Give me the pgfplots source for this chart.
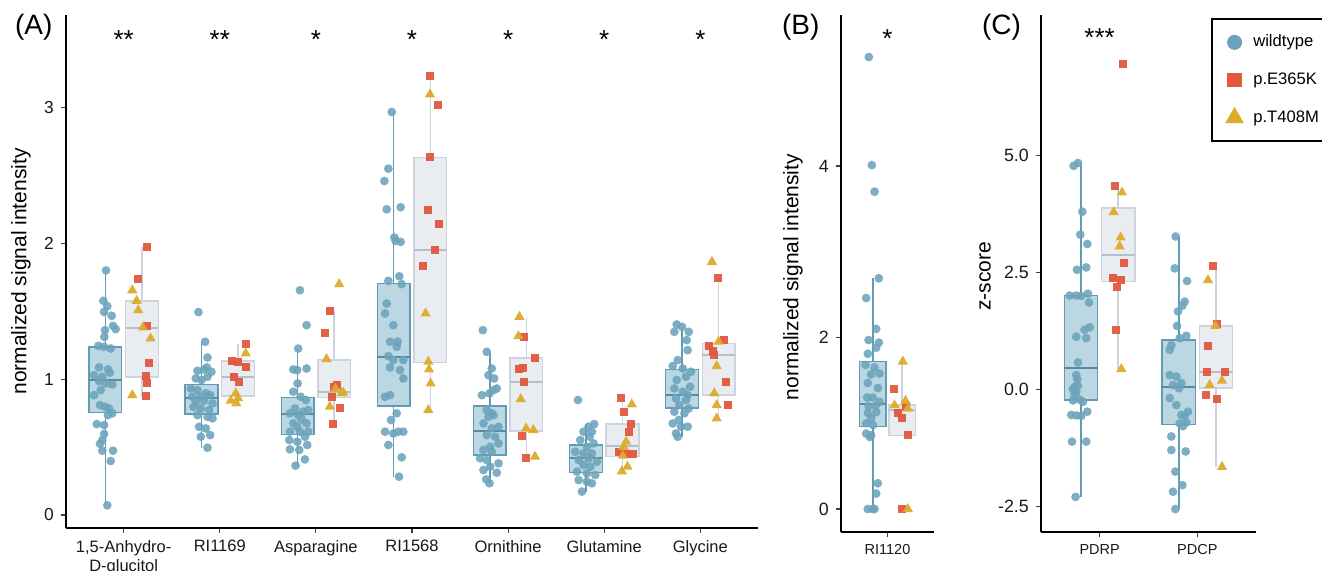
\documentclass[border=0pt]{standalone}
\usepackage{fontspec}
\setmainfont{Liberation Sans}
\usepackage{pgfplots}
\pgfplotsset{compat=1.18}
\usepgfplotslibrary{statistics}
\definecolor{wtpt}{RGB}{108,163,187}
\definecolor{wtbox}{RGB}{186,215,226}
\definecolor{wtline}{RGB}{96,156,181}
\definecolor{mutbox}{RGB}{233,237,241}
\definecolor{mutline}{RGB}{206,212,222}
\definecolor{ekred}{RGB}{226,88,62}
\definecolor{tmyel}{RGB}{221,171,42}
\pgfplotsset{
  panel/.style={scale only axis, anchor=south west, axis lines=left,
    axis line style={-, line width=0.6pt, black}, tick align=outside,
    major tick length=2.6pt, tick style={line width=0.6pt, black!75},
    /pgf/number format/assume math mode=true, enlargelimits=false, clip=false},
  wtb/.style={forget plot, draw=wtline, fill=wtbox, line width=0.75pt, mark=none,
    boxplot/draw direction=y,
    boxplot/box extend=0.34, boxplot/whisker extend=0,
    boxplot/every median/.style={draw=wtline!90!black, line width=1pt}},
  mtb/.style={forget plot, draw=mutline, fill=mutbox, line width=0.75pt, mark=none,
    boxplot/draw direction=y,
    boxplot/box extend=0.34, boxplot/whisker extend=0,
    boxplot/every median/.style={draw=mutline!90!black, line width=1pt}},
  wtp/.style={forget plot, only marks, mark=*, mark size=2.2pt, draw=wtpt, fill=wtpt, draw opacity=0, fill opacity=0.88},
  ekp/.style={forget plot, only marks, mark=square*, mark size=2pt, draw=ekred, fill=ekred, draw opacity=0, fill opacity=0.95},
  tmp/.style={forget plot, only marks, mark=triangle*, mark size=3pt, draw=tmyel, fill=tmyel, draw opacity=0, fill opacity=0.95},
}
\newcommand{\bx}[7]{\addplot[#1, boxplot prepared={draw position=#2, median=#3, upper quartile=#4, lower quartile=#5, upper whisker=#6, lower whisker=#7}] coordinates {};}
\begin{document}
\begin{tikzpicture}
\useasboundingbox (0,0) rectangle (661pt,285pt);
% ---------------- Panel A ----------------
\begin{axis}[panel, at={(33pt,21pt)}, width=346pt, height=256.5pt,
  xmin=-0.6, xmax=6.6, ymin=-0.096, ymax=3.68,
  xtick={0,1,2,3,4,5,6},
  xticklabels={{1,5-Anhydro-\\D-glucitol},RI1169,Asparagine,RI1568,Ornithine,Glutamine,Glycine},
  xticklabel style={align=center, font=\fontsize{8.25}{9.5}\selectfont, black!90},
  ytick={0,1,2,3},
  yticklabel style={font=\fontsize{8.7}{10}\selectfont, black!90},
  ylabel={normalized signal intensity},
  ylabel style={at={(axis description cs:-0.065,0.5)}, anchor=center, font=\fontsize{10.5}{12}\selectfont},
]
\bx{wtb}{-0.19}{0.993}{1.238}{0.755}{1.80}{0.071}
\bx{mtb}{0.19}{1.373}{1.574}{1.017}{1.973}{0.877}
\bx{wtb}{0.81}{0.858}{0.961}{0.743}{1.275}{0.495}
\bx{mtb}{1.19}{1.017}{1.135}{0.875}{1.262}{0.821}
\bx{wtb}{1.81}{0.743}{0.865}{0.593}{1.225}{0.363}
\bx{mtb}{2.19}{0.907}{1.140}{0.865}{1.500}{0.669}
\bx{wtb}{2.81}{1.164}{1.704}{0.801}{2.966}{0.282}
\bx{mtb}{3.19}{1.953}{2.630}{1.123}{3.233}{0.772}
\bx{wtb}{3.81}{0.618}{0.801}{0.441}{1.201}{0.233}
\bx{mtb}{4.19}{0.980}{1.157}{0.618}{1.458}{0.421}
\bx{wtb}{4.81}{0.417}{0.515}{0.311}{0.669}{0.172}
\bx{mtb}{5.19}{0.510}{0.669}{0.429}{0.863}{0.321}
\bx{wtb}{5.81}{0.882}{1.071}{0.789}{1.385}{0.576}
\bx{mtb}{6.19}{1.176}{1.262}{0.882}{1.745}{0.711}
\addplot[wtp] table {
x y
-0.211 1.576
-0.170 1.537
-0.204 1.495
-0.125 1.466
-0.111 1.392
-0.083 1.368
-0.194 1.360
-0.201 1.311
-0.263 1.245
-0.204 1.238
-0.135 1.225
-0.256 1.086
-0.163 1.071
-0.145 1.047
-0.308 1.029
-0.222 1.017
-0.256 0.985
-0.187 0.968
-0.118 0.961
-0.239 0.919
-0.308 0.882
-0.246 0.809
-0.194 0.796
-0.152 0.784
-0.118 0.748
-0.163 0.735
-0.280 0.669
-0.204 0.662
-0.204 0.596
-0.222 0.551
-0.246 0.524
-0.222 0.473
-0.111 0.473
-0.135 0.397
-0.170 0.071
-0.183 1.800
0.778 1.493
0.848 1.275
0.872 1.159
0.865 1.086
0.768 1.061
0.837 1.071
0.913 1.054
0.751 1.005
0.872 1.017
0.810 0.993
0.699 0.931
0.768 0.919
0.855 0.895
0.900 0.882
0.716 0.870
0.803 0.870
0.751 0.833
0.837 0.841
0.924 0.821
0.727 0.796
0.803 0.784
0.889 0.772
0.768 0.735
0.872 0.723
0.924 0.711
0.785 0.649
0.855 0.637
0.900 0.588
0.803 0.576
0.872 0.495
1.834 1.654
1.903 1.397
1.816 1.225
1.765 1.071
1.806 1.066
1.903 1.078
1.810 0.968
1.765 0.907
1.841 0.870
1.896 0.846
1.782 0.784
1.868 0.760
1.920 0.772
1.730 0.748
1.816 0.735
1.851 0.703
1.765 0.674
1.903 0.674
1.806 0.649
1.730 0.613
1.834 0.613
1.920 0.613
1.723 0.551
1.806 0.539
1.886 0.576
1.910 0.515
1.730 0.483
1.827 0.478
1.886 0.409
1.789 0.363
2.789 2.966
2.754 2.549
2.713 2.458
2.737 2.250
2.882 2.265
2.817 2.042
2.830 2.017
2.882 2.010
2.754 1.723
2.868 1.757
2.893 1.699
2.737 1.556
2.720 1.483
2.806 1.397
2.772 1.275
2.851 1.275
2.841 1.238
2.754 1.169
2.806 1.140
2.910 1.140
2.772 1.086
2.875 1.066
2.910 1.005
2.720 0.870
2.772 0.882
2.841 0.748
2.782 0.699
2.720 0.613
2.806 0.600
2.858 0.613
2.910 0.613
2.754 0.515
2.893 0.424
2.865 0.282
3.737 1.360
3.778 1.201
3.830 1.078
3.796 1.029
3.855 1.005
3.882 0.931
3.727 0.882
3.806 0.895
3.848 0.919
3.778 0.772
3.830 0.748
3.796 0.723
3.848 0.735
3.900 0.649
3.744 0.674
3.830 0.637
3.778 0.588
3.865 0.576
3.900 0.527
3.813 0.502
3.744 0.478
3.830 0.466
3.709 0.417
3.778 0.404
3.900 0.380
3.813 0.355
3.744 0.331
3.882 0.311
3.772 0.262
3.806 0.233
4.727 0.846
4.896 0.669
4.837 0.650
4.785 0.613
4.872 0.613
4.848 0.576
4.751 0.551
4.889 0.527
4.820 0.502
4.699 0.466
4.785 0.453
4.872 0.453
4.837 0.417
4.734 0.404
4.924 0.392
4.785 0.368
4.855 0.355
4.716 0.319
4.820 0.306
4.907 0.294
4.734 0.257
4.820 0.245
4.872 0.233
4.768 0.172
5.754 1.402
5.810 1.385
5.730 1.348
5.879 1.348
5.858 1.287
5.868 1.213
5.765 1.140
5.713 1.096
5.817 1.078
5.903 1.054
5.851 1.017
5.754 0.993
5.893 0.944
5.730 0.931
5.817 0.907
5.868 0.882
5.747 0.858
5.851 0.846
5.782 0.809
5.879 0.784
5.730 0.760
5.834 0.748
5.775 0.699
5.713 0.674
5.868 0.650
5.799 0.650
5.747 0.600
5.765 0.576
};
\addplot[ekp] table {
x y
0.239 1.973
0.149 1.738
0.246 1.392
0.263 1.120
0.228 1.022
0.246 0.968
0.228 0.877
1.270 1.262
1.131 1.135
1.190 1.123
1.277 1.086
1.149 1.017
1.201 0.980
2.145 1.500
2.093 1.341
2.215 0.956
2.190 0.940
2.163 0.865
2.249 0.784
2.180 0.669
3.187 3.233
3.274 3.020
3.187 2.635
3.170 2.248
3.280 2.140
3.239 1.953
3.118 1.833
4.166 1.311
4.284 1.157
4.118 1.078
4.159 1.083
4.166 0.980
4.142 0.581
4.187 0.421
5.173 0.863
5.201 0.760
5.277 0.669
5.253 0.613
5.159 0.466
5.298 0.449
5.235 0.450
6.180 1.745
6.249 1.287
6.093 1.245
6.128 1.208
6.145 1.176
6.267 0.976
6.284 0.809
};
\addplot[tmp] table {
x y
0.090 1.654
0.135 1.576
0.152 1.507
0.201 1.380
0.280 1.299
0.090 0.882
1.270 1.189
1.166 0.895
1.190 0.860
1.114 0.841
1.173 0.821
2.242 1.699
2.111 1.147
2.204 0.930
2.284 0.900
2.266 0.895
2.145 0.797
3.187 3.096
3.142 1.483
3.170 1.128
3.177 1.071
3.194 0.968
3.170 0.772
4.118 1.458
4.107 1.316
4.132 0.853
4.187 0.637
4.263 0.625
4.280 0.429
5.287 0.814
5.228 0.539
5.201 0.502
5.194 0.436
5.242 0.355
5.184 0.321
6.121 1.863
6.190 1.275
6.170 1.096
6.145 0.895
6.170 0.809
6.170 0.711
};
\foreach \i/\s in {0/{**},1/{**},2/{*},3/{*},4/{*},5/{*},6/{*}}{
  \edef\tmp{\noexpand\node[font=\noexpand\fontsize{13}{13}\noexpand\selectfont, yshift=-2.9pt] at (axis cs:\i,3.544) {\s};}
  \tmp
}
\end{axis}
% ---------------- Panel B ----------------
\begin{axis}[panel, at={(420.5pt,19pt)}, width=46.5pt, height=258.5pt,
  xmin=-0.6, xmax=0.6, ymin=-0.268, ymax=5.76,
  xtick={0}, xticklabels={RI1120},
  xticklabel style={font=\fontsize{7.25}{8.5}\selectfont, black!90},
  ytick={0,2,4},
  yticklabel style={font=\fontsize{8.9}{10}\selectfont, black!90},
  ylabel={normalized signal intensity},
  ylabel style={at={(axis description cs:-0.516,0.493)}, anchor=center, font=\fontsize{10.5}{12}\selectfont},
]
\bx{wtb}{-0.19}{1.22}{1.72}{0.96}{2.69}{0}
\bx{mtb}{0.19}{1.15}{1.21}{0.86}{1.72}{0.86}
\addplot[wtp] table {
x y
-0.241 5.27
-0.202 4.01
-0.168 3.70
-0.112 2.69
-0.275 2.46
-0.146 2.10
-0.245 1.97
-0.112 1.94
-0.146 1.88
-0.254 1.81
-0.284 1.68
-0.168 1.65
-0.103 1.58
-0.211 1.57
-0.254 1.47
-0.125 1.41
-0.262 1.30
-0.189 1.30
-0.103 1.25
-0.245 1.20
-0.155 1.20
-0.254 1.12
-0.146 1.13
-0.211 1.06
-0.275 1.00
-0.189 0.98
-0.275 0.88
-0.211 0.86
-0.228 0.84
-0.125 0.30
-0.146 0.18
-0.254 0.00
-0.168 0.00
-0.190 0.00
};
\addplot[ekp] table {
x y
0.090 1.40
0.133 1.12
0.241 1.20
0.189 1.06
0.262 0.86
0.189 0.00
};
\addplot[tmp] table {
x y
0.198 1.72
0.090 1.21
0.232 1.26
0.262 1.17
0.262 0.00
};
\node[font=\fontsize{13}{13}\selectfont, yshift=-2.9pt] at (axis cs:0,5.55) {*};
\end{axis}
% ---------------- Panel C ----------------
\begin{axis}[panel, at={(520.5pt,19pt)}, width=107.5pt, height=258.5pt,
  xmin=-0.6, xmax=1.6, ymin=-3.04, ymax=8.0,
  xtick={0,1}, xticklabels={PDRP,PDCP},
  xticklabel style={font=\fontsize{7.25}{8.5}\selectfont, black!90},
  ytick={-2.5,0,2.5,5}, yticklabels={-2.5,0.0,2.5,5.0},
  yticklabel style={font=\fontsize{8.9}{10}\selectfont, black!90},
  ylabel={z-score},
  ylabel style={at={(axis description cs:-0.26,0.495)}, anchor=center, font=\fontsize{10.5}{12}\selectfont},
  legend style={at={(axis description cs:0.791,0.994)}, anchor=north west,
    draw=black, line width=0.75pt, font=\fontsize{8.3}{9.5}\selectfont,
    row sep=7.5pt, inner xsep=2pt, inner ysep=6pt, cells={anchor=west}},
  legend cell align=left,
  legend image code/.code={\path (0pt,0pt) (16pt,0pt); \draw[#1] plot coordinates {(9pt,0pt)};},
]
\bx{wtb}{-0.19}{0.457}{2.01}{-0.22}{4.84}{-2.29}
\bx{mtb}{0.19}{2.88}{3.88}{2.31}{4.30}{0.44}
\bx{wtb}{0.81}{0.05}{1.06}{-0.74}{3.27}{-2.55}
\bx{mtb}{1.19}{0.37}{1.36}{0.03}{2.65}{-1.65}
\addplot[wtp] table {
x y
-0.266 4.78
-0.222 4.84
-0.177 3.80
-0.198 3.31
-0.126 3.11
-0.232 2.56
-0.137 2.61
-0.307 2.01
-0.239 2.01
-0.188 2.00
-0.119 2.05
-0.109 1.86
-0.154 1.28
-0.102 1.33
-0.239 1.13
-0.137 1.10
-0.222 0.58
-0.239 0.31
-0.229 0.22
-0.256 0.06
-0.222 0.08
-0.273 0.01
-0.239 -0.04
-0.256 -0.11
-0.205 -0.21
-0.273 -0.23
-0.171 -0.26
-0.290 -0.54
-0.239 -0.55
-0.188 -0.56
-0.126 -0.47
-0.283 -1.11
-0.137 -1.11
-0.246 -2.29
0.778 3.27
0.768 2.59
0.894 2.32
0.870 1.88
0.846 1.79
0.802 1.67
0.792 1.36
0.887 1.15
0.819 1.10
0.734 0.95
0.717 0.85
0.717 0.31
0.785 0.28
0.836 0.14
0.751 0.10
0.812 0.03
0.717 -0.18
0.785 -0.33
0.904 -0.47
0.836 -0.54
0.870 -0.56
0.819 -0.72
0.853 -0.78
0.887 -0.70
0.734 -1.00
0.734 -1.29
0.880 -1.32
0.775 -1.75
0.846 -2.04
0.751 -2.18
0.775 -2.55
};
\addplot[ekp] table {
x y
0.239 6.96
0.160 4.35
0.246 2.70
0.137 2.38
0.215 2.34
0.177 2.19
0.171 1.28
1.160 2.65
1.201 1.40
1.109 0.94
1.099 0.37
1.279 0.37
1.092 -0.11
1.205 -0.21
};
\addplot[tmp] table {
x y
0.229 4.21
0.143 3.79
0.215 3.25
0.205 3.06
0.222 0.44
1.109 2.34
1.184 1.36
1.252 0.19
1.126 0.10
1.252 -1.65
};
\node[font=\fontsize{13}{13}\selectfont, yshift=-2.9pt] at (axis cs:0,7.64) {***};
\addlegendimage{only marks, mark=*, mark size=3.75pt, draw=wtpt, fill=wtpt, draw opacity=0}
\addlegendentry{wildtype}
\addlegendimage{only marks, mark=square*, mark size=3.6pt, draw=ekred, fill=ekred, draw opacity=0}
\addlegendentry{p.E365K}
\addlegendimage{only marks, mark=triangle*, mark size=5.4pt, draw=tmyel, fill=tmyel, draw opacity=0}
\addlegendentry{p.T408M}
\end{axis}
\node[anchor=west, font=\fontsize{14}{14}\selectfont] at (4pt,271.5pt) {(A)};
\node[anchor=west, font=\fontsize{14}{14}\selectfont] at (387.5pt,271.5pt) {(B)};
\node[anchor=west, font=\fontsize{14}{14}\selectfont] at (487.5pt,271.5pt) {(C)};
\end{tikzpicture}
\end{document}
